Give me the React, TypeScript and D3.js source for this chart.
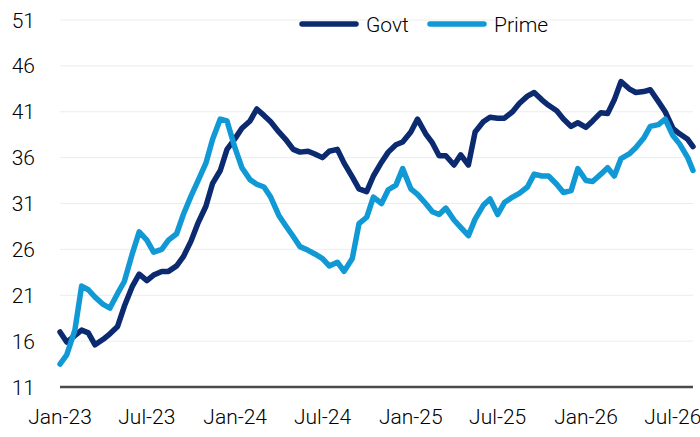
import { useEffect, useRef } from 'react';
import * as d3 from 'd3';

const width = 700
const height = 437
const margin = { top: 20, right: 7, bottom: 50, left: 60 }

const navy = '#0b2a6f'
const sky = '#1199d6'

const dates = [
  '2023-01-01', '2023-01-15', '2023-02-01', '2023-02-15', '2023-03-01', '2023-03-15',
  '2023-04-01', '2023-04-15', '2023-05-01', '2023-05-15', '2023-06-01', '2023-06-15',
  '2023-07-01', '2023-07-15', '2023-08-01', '2023-08-15', '2023-09-01', '2023-09-15',
  '2023-10-01', '2023-10-15', '2023-11-01', '2023-11-15', '2023-12-01', '2023-12-15',
  '2024-01-01', '2024-01-15', '2024-02-01', '2024-02-15', '2024-03-01', '2024-03-15',
  '2024-04-01', '2024-04-15', '2024-05-01', '2024-05-15', '2024-06-01', '2024-06-15',
  '2024-07-01', '2024-07-15', '2024-08-01', '2024-08-15', '2024-09-01', '2024-09-15',
  '2024-10-01', '2024-10-15', '2024-11-01', '2024-11-15', '2024-12-01', '2024-12-15',
  '2025-01-01', '2025-01-15', '2025-02-01', '2025-02-15', '2025-03-01', '2025-03-15',
  '2025-04-01', '2025-04-15', '2025-05-01', '2025-05-15', '2025-06-01', '2025-06-15',
  '2025-07-01', '2025-07-15', '2025-08-01', '2025-08-15', '2025-09-01', '2025-09-15',
  '2025-10-01', '2025-10-15', '2025-11-01', '2025-11-15', '2025-12-01', '2025-12-15',
  '2026-01-01', '2026-01-15', '2026-02-01', '2026-02-15', '2026-03-01', '2026-03-15',
  '2026-04-01', '2026-04-15', '2026-05-01', '2026-05-15', '2026-06-01', '2026-06-15',
  '2026-07-01', '2026-07-15', '2026-08-01', '2026-08-12',
]

const govt = [
  17.0, 15.9, 16.6, 17.2, 16.9, 15.6,
  16.2, 16.8, 17.6, 19.8, 22.0, 23.3,
  22.6, 23.2, 23.6, 23.6, 24.2, 25.2,
  26.9, 28.8, 30.7, 33.2, 34.6, 36.9,
  38.1, 39.2, 40.0, 41.3, 40.6, 39.9,
  38.8, 38.0, 36.9, 36.6, 36.7, 36.4,
  36.0, 36.7, 36.9, 35.4, 33.9, 32.6,
  32.3, 34.0, 35.5, 36.6, 37.4, 37.7,
  38.8, 40.2, 38.6, 37.6, 36.2, 36.2,
  35.2, 36.3, 35.2, 38.8, 39.9, 40.4,
  40.3, 40.3, 41.0, 41.9, 42.7, 43.1,
  42.3, 41.7, 41.1, 40.2, 39.4, 39.8,
  39.3, 40.0, 40.9, 40.8, 42.3, 44.3,
  43.5, 43.1, 43.2, 43.4, 42.1, 41.0,
  39.2, 38.6, 38.0, 37.2,
]

const prime = [
  13.5, 14.5, 17.2, 22.0, 21.6, 20.8,
  20.0, 19.6, 21.2, 22.5, 25.6, 27.9,
  27.0, 25.7, 26.0, 27.0, 27.7, 29.8,
  31.8, 33.4, 35.4, 38.0, 40.2, 40.0,
  37.0, 34.9, 33.6, 33.1, 32.8, 31.7,
  29.7, 28.6, 27.4, 26.3, 25.9, 25.5,
  25.0, 24.2, 24.6, 23.6, 25.0, 28.8,
  29.5, 31.7, 31.0, 32.5, 33.0, 34.8,
  32.6, 32.0, 31.0, 30.1, 29.8, 30.5,
  29.2, 28.4, 27.5, 29.3, 30.8, 31.5,
  29.8, 31.1, 31.7, 32.1, 32.8, 34.2,
  34.0, 34.0, 33.1, 32.2, 32.4, 34.8,
  33.5, 33.4, 34.2, 34.9, 34.0, 35.9,
  36.4, 37.1, 38.1, 39.4, 39.6, 40.2,
  38.4, 37.5, 36.0, 34.6,
]

const yTicks = [11, 16, 21, 26, 31, 36, 41, 46, 51]
const xTickLabels = ['Jan-23', 'Jul-23', 'Jan-24', 'Jul-24', 'Jan-25', 'Jul-25', 'Jan-26', 'Jul-26']
const xTickDates = ['2023-01-01', '2023-07-01', '2024-01-01', '2024-07-01', '2025-01-01', '2025-07-01', '2026-01-01', '2026-07-01']

const seriesNames = ['Govt', 'Prime']
const seriesColors = [navy, sky]

const font = 'Roboto, "Noto Sans", sans-serif'

const App = () => {
  const ref = useRef(null)

  useEffect(() => {
    if (!ref.current) return
    const svg = d3.select(ref.current)
    svg.selectAll('*').remove()

    const parse = d3.utcParse('%Y-%m-%d')
    const x = d3.scaleUtc()
      .domain([parse(dates[0]), parse(dates[dates.length - 1])])
      .range([margin.left, width - margin.right])
    const y = d3.scaleLinear()
      .domain([11, 51])
      .range([height - margin.bottom, margin.top])

    // gridlines
    svg.append('g')
      .selectAll('line')
      .data(yTicks.slice(1))
      .enter()
      .append('line')
      .attr('x1', margin.left)
      .attr('x2', width - margin.right)
      .attr('y1', d => y(d))
      .attr('y2', d => y(d))
      .attr('stroke', '#ececec')
      .attr('stroke-width', 1)

    // y labels
    svg.append('g')
      .selectAll('text')
      .data(yTicks)
      .enter()
      .append('text')
      .attr('x', 35)
      .attr('y', d => y(d))
      .attr('dy', '0.36em')
      .attr('text-anchor', 'end')
      .style('font-family', font)
      .style('font-weight', 300)
      .style('font-size', '21px')
      .style('fill', '#000')
      .text(d => d)

    // x labels
    svg.append('g')
      .selectAll('text')
      .data(xTickDates)
      .enter()
      .append('text')
      .attr('x', d => x(parse(d)))
      .attr('y', 424)
      .attr('text-anchor', 'middle')
      .style('font-family', font)
      .style('font-weight', 300)
      .style('font-size', '21px')
      .style('fill', '#000')
      .text((d, i) => xTickLabels[i])

    // series
    const line = d3.line<number>()
      .x((d, i) => x(parse(dates[i])))
      .y(d => y(d))

    ;[govt, prime].forEach((values, k) => {
      svg.append('path')
        .datum(values)
        .attr('d', line)
        .attr('fill', 'none')
        .attr('stroke', seriesColors[k])
        .attr('stroke-width', 5.5)
        .attr('stroke-linejoin', 'round')
        .attr('stroke-linecap', 'round')
    })

    // baseline
    svg.append('line')
      .attr('x1', margin.left)
      .attr('x2', width - margin.right)
      .attr('y1', y(11))
      .attr('y2', y(11))
      .attr('stroke', '#4a4a4a')
      .attr('stroke-width', 2.5)

    // legend
    const legendX = [300, 428]
    const legend = svg.append('g')
      .selectAll('g')
      .data(seriesNames)
      .enter()
      .append('g')
      .attr('transform', (d, i) => `translate(${legendX[i]}, 24)`)
    legend.append('line')
      .attr('x1', 2)
      .attr('x2', 56)
      .attr('stroke', (d, i) => seriesColors[i])
      .attr('stroke-width', 5.5)
      .attr('stroke-linecap', 'round')
    legend.append('text')
      .attr('x', 66)
      .attr('dy', '0.36em')
      .style('font-family', font)
      .style('font-weight', 300)
      .style('font-size', '21px')
      .style('fill', '#000')
      .text(d => d)
  }, [])

  return (
    <svg
      ref={ref}
      width={width}
      height={height}
      style={{ position: 'absolute', left: 0, top: 0, background: '#fff' }}
    ></svg>
  )
}

export default App;
